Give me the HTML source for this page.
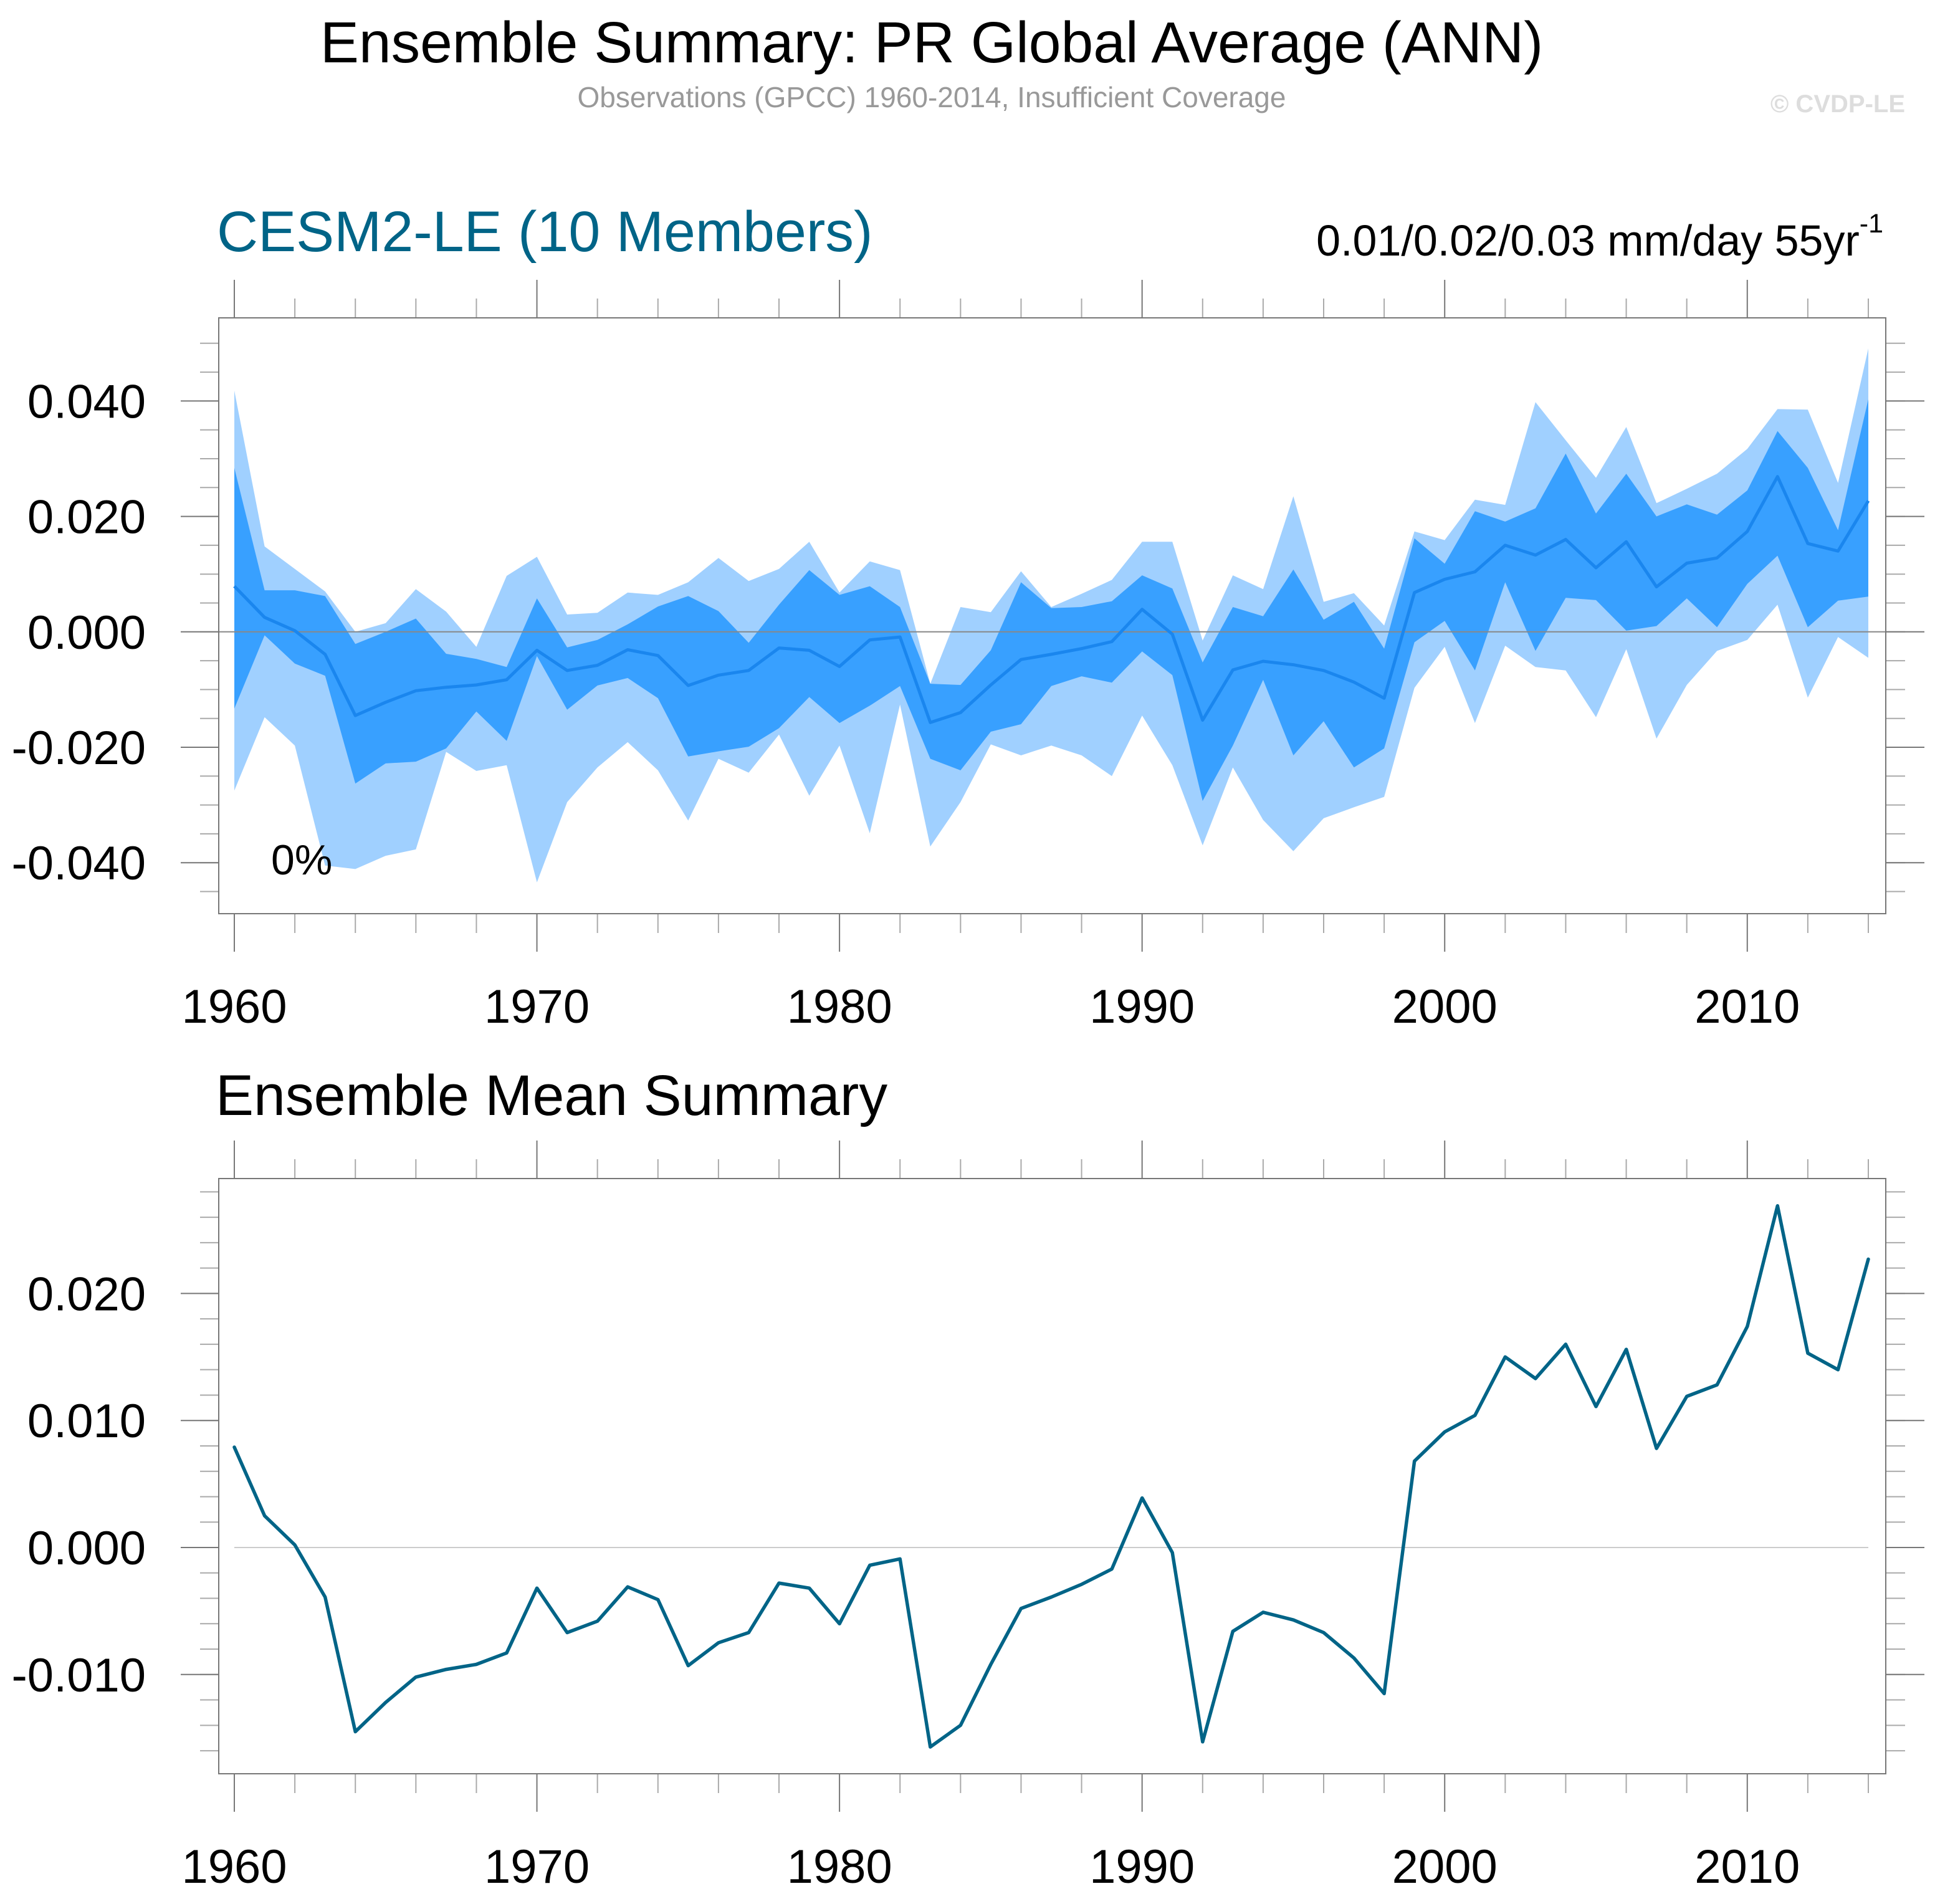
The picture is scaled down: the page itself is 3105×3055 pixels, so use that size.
<!DOCTYPE html>
<html><head><meta charset="utf-8"><style>
html,body{margin:0;padding:0;background:#fff;}
svg{display:block;font-family:"Liberation Sans",sans-serif;}
</style></head><body>
<svg id="fig" width="3105" height="3055" viewBox="0 0 3105 3055" xmlns="http://www.w3.org/2000/svg">
<text x="1495" y="100" font-size="93" text-anchor="middle" fill="#000">Ensemble Summary: PR Global Average (ANN)</text>
<text x="1495" y="172" font-size="46" text-anchor="middle" fill="#999">Observations (GPCC) 1960-2014, Insufficient Coverage</text>
<text x="3057" y="180" font-size="40" font-weight="bold" text-anchor="end" fill="#ddd">© CVDP-LE</text>
<text x="348" y="403" font-size="91.5" fill="#006487">CESM2-LE (10 Members)</text>
<text x="3022" y="410" font-size="70" text-anchor="end" fill="#000">0.01/0.02/0.03 mm/day 55yr<tspan font-size="43" dy="-37">-1</tspan></text>
<text x="346" y="1789" font-size="91.5" fill="#000">Ensemble Mean Summary</text>
<g id="top"></g>
<g id="bot"></g>
</svg>
<script>
const years = [];
for (let y = 1960; y <= 2014; y++) years.push(y);
const meanVals = [0.0079,0.0025,0.0002,-0.0039,-0.0145,-0.0122,-0.0102,-0.0096,-0.0092,-0.0083,-0.0032,-0.0067,-0.0058,-0.0031,-0.0041,-0.0093,-0.0075,-0.0067,-0.0028,-0.0032,-0.0060,-0.0014,-0.0009,-0.0157,-0.0140,-0.0092,-0.0048,-0.0039,-0.0029,-0.0017,0.0039,-0.0004,-0.0153,-0.0066,-0.0051,-0.0057,-0.0067,-0.0087,-0.0115,0.0068,0.0091,0.0104,0.0150,0.0133,0.0160,0.0111,0.0156,0.0078,0.0119,0.0128,0.0174,0.0269,0.0153,0.0140,0.0227];
const lightUpper = [0.0418,0.0148,0.0109,0.0070,0.0000,0.0015,0.0074,0.0035,-0.0026,0.0097,0.0130,0.0030,0.0033,0.0068,0.0064,0.0086,0.0128,0.0088,0.0109,0.0156,0.0068,0.0122,0.0107,-0.0090,0.0043,0.0034,0.0105,0.0043,0.0066,0.0090,0.0156,0.0156,-0.0015,0.0098,0.0074,0.0235,0.0052,0.0067,0.0011,0.0174,0.0159,0.0229,0.0220,0.0398,0.0332,0.0267,0.0355,0.0223,0.0248,0.0274,0.0317,0.0386,0.0385,0.0258,0.0491];
const darkUpper = [0.0284,0.0072,0.0072,0.0062,-0.0021,0.0000,0.0023,-0.0038,-0.0047,-0.0061,0.0058,-0.0027,-0.0014,0.0013,0.0044,0.0062,0.0036,-0.0019,0.0047,0.0107,0.0064,0.0079,0.0043,-0.0090,-0.0092,-0.0032,0.0086,0.0041,0.0043,0.0053,0.0098,0.0075,-0.0053,0.0043,0.0027,0.0108,0.0021,0.0052,-0.0029,0.0162,0.0118,0.0209,0.0191,0.0214,0.0309,0.0205,0.0274,0.0200,0.0221,0.0203,0.0245,0.0348,0.0284,0.0176,0.0403];
const darkLower = [-0.0133,-0.0006,-0.0055,-0.0076,-0.0263,-0.0228,-0.0225,-0.0202,-0.0138,-0.0189,-0.0042,-0.0135,-0.0093,-0.0080,-0.0115,-0.0216,-0.0207,-0.0199,-0.0167,-0.0113,-0.0158,-0.0128,-0.0094,-0.0220,-0.0240,-0.0173,-0.0160,-0.0094,-0.0077,-0.0088,-0.0034,-0.0075,-0.0293,-0.0197,-0.0083,-0.0214,-0.0155,-0.0235,-0.0202,-0.0018,0.0019,-0.0067,0.0086,-0.0033,0.0059,0.0055,0.0002,0.0010,0.0058,0.0008,0.0083,0.0132,0.0008,0.0054,0.0061];
const lightLower = [-0.0275,-0.0148,-0.0197,-0.0405,-0.0411,-0.0388,-0.0377,-0.0208,-0.0241,-0.0231,-0.0434,-0.0295,-0.0235,-0.0191,-0.0240,-0.0327,-0.0220,-0.0244,-0.0178,-0.0284,-0.0197,-0.0349,-0.0126,-0.0372,-0.0295,-0.0195,-0.0214,-0.0197,-0.0214,-0.0250,-0.0145,-0.0231,-0.0370,-0.0235,-0.0326,-0.0380,-0.0323,-0.0304,-0.0286,-0.0097,-0.0026,-0.0158,-0.0024,-0.0061,-0.0067,-0.0148,-0.0030,-0.0185,-0.0092,-0.0033,-0.0014,0.0047,-0.0114,-0.0009,-0.0045];
const topYTicks = [0.04,0.02,0,-0.02,-0.04];
const topYLabels = ["0.040","0.020","0.000","-0.020","-0.040"];
const botYTicks = [0.02,0.01,0,-0.01];
const botYLabels = ["0.020","0.010","0.000","-0.010"];
const xTicks = [1960,1970,1980,1990,2000,2010];

const NS = "http://www.w3.org/2000/svg";
function mk(parent, tag, attrs) {
  const e = document.createElementNS(NS, tag);
  for (const k in attrs) e.setAttribute(k, attrs[k]);
  parent.appendChild(e);
  return e;
}
const L = 351, R = 3026;
const xS = yr => 376 + (yr - 1960) * (2998 - 376) / 54;

function panel(g, top, bottom, y0px, pxPerUnit, minorFrom, minorTo, minorStep, yTicks, yLabels, name) {
  const yS = v => y0px - v * pxPerUnit;
  for (let v = minorFrom; v >= minorTo - 1e-9; v -= minorStep) {
    const y = yS(v);
    let t = mk(g, 'line', {x1: L - 30, x2: L, y1: y, y2: y, stroke: '#aaa', 'stroke-width': 2});
    
    
    t = mk(g, 'line', {x1: R, x2: R + 31, y1: y, y2: y, stroke: '#aaa', 'stroke-width': 2});
    
    
  }
  yTicks.forEach((v, i) => {
    const y = yS(v);
    let t = mk(g, 'line', {x1: L - 61, x2: L, y1: y, y2: y, stroke: '#777', 'stroke-width': 2});
    
    
    t = mk(g, 'line', {x1: R, x2: R + 62, y1: y, y2: y, stroke: '#777', 'stroke-width': 2});
    
    
    const tx = mk(g, 'text', {x: 234, y: y + 27, 'font-size': 76, 'text-anchor': 'end', fill: '#000'});
    tx.textContent = yLabels[i];
    
    
  });
  years.forEach(yr => {
    const x = xS(yr);
    const major = xTicks.indexOf(yr) >= 0;
    if (!major && (yr % 2)) return;
    const len = major ? 61 : 31;
    const col = major ? '#777' : '#aaa';
    let t = mk(g, 'line', {x1: x, x2: x, y1: top - len, y2: top, stroke: col, 'stroke-width': 2});
    
    
    t = mk(g, 'line', {x1: x, x2: x, y1: bottom, y2: bottom + len, stroke: col, 'stroke-width': 2});
    
    
  });
  xTicks.forEach(yr => {
    const tx = mk(g, 'text', {x: xS(yr), y: bottom + 175, 'font-size': 76, 'text-anchor': 'middle', fill: '#000'});
    tx.textContent = String(yr);
    
    
  });
  return yS;
}

function bandPath(up, lo, yS) {
  let d = '';
  years.forEach((yr, i) => { d += (i ? 'L' : 'M') + xS(yr).toFixed(1) + ',' + yS(up[i]).toFixed(1); });
  for (let i = years.length - 1; i >= 0; i--) d += 'L' + xS(years[i]).toFixed(1) + ',' + yS(lo[i]).toFixed(1);
  return d + 'Z';
}
function linePts(vals, yS) {
  return years.map((yr, i) => xS(yr).toFixed(1) + ',' + yS(vals[i]).toFixed(1)).join(' ');
}

const gt = document.getElementById('top');
const yT = panel(gt, 510, 1466, 1013.8, 9260, 0.05, -0.045, 0.005, topYTicks, topYLabels, 'top');
let p = mk(gt, 'path', {d: bandPath(lightUpper, lightLower, yT), fill: '#a0d0ff'});


p = mk(gt, 'path', {d: bandPath(darkUpper, darkLower, yT), fill: '#38a0ff'});


let z = mk(gt, 'line', {x1: L, x2: R, y1: yT(0), y2: yT(0), stroke: '#888', 'stroke-width': 2});


let ln = mk(gt, 'polyline', {points: linePts(meanVals, yT), fill: 'none', stroke: '#1a86ee', 'stroke-width': 5, 'stroke-linejoin': 'round'});


let fr = mk(gt, 'rect', {x: L, y: 510, width: R - L, height: 956, fill: 'none', stroke: '#777', 'stroke-width': 2});


let pc = mk(gt, 'text', {x: 435, y: 1403, 'font-size': 68, fill: '#000'});
pc.textContent = '0%';



const gb = document.getElementById('bot');
const yB = panel(gb, 1891, 2846, 2483, 20380, 0.028, -0.016, 0.002, botYTicks, botYLabels, 'bottom');
z = mk(gb, 'line', {x1: xS(1960), x2: xS(2014), y1: yB(0), y2: yB(0), stroke: '#ccc', 'stroke-width': 2});


ln = mk(gb, 'polyline', {points: linePts(meanVals, yB), fill: 'none', stroke: '#006487', 'stroke-width': 5.5, 'stroke-linejoin': 'round', 'stroke-linecap': 'round'});


fr = mk(gb, 'rect', {x: L, y: 1891, width: R - L, height: 955, fill: 'none', stroke: '#777', 'stroke-width': 2});


</script>
</body></html>
